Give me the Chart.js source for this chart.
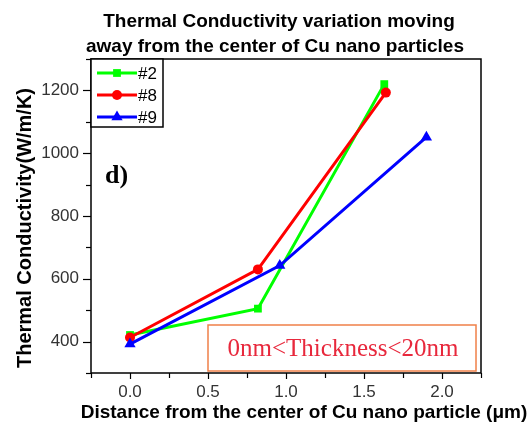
<!DOCTYPE html>
<html>
<head>
<meta charset="utf-8">
<title>Thermal Conductivity variation</title>
<script src="https://cdn.jsdelivr.net/npm/chart.js@4.4.1/dist/chart.umd.min.js"></script>
<style>
  html, body { margin: 0; padding: 0; background: #fff; }
  canvas { display: block; }
</style>
</head>
<body>
<canvas id="chart" width="532" height="430"></canvas>
<script>
// values
const seriesLabels = ["#2", "#8", "#9"];

const distance2 = [0, 0.82, 1.63];
const conductivity2 = [421, 505, 1220];

const distance8 = [0, 0.82, 1.64];
const conductivity8 = [413, 630, 1193];

const distance9 = [0, 0.96, 1.9];
const conductivity9 = [392, 642, 1051];

const titleLines = ["Thermal Conductivity variation moving", "away from the center of Cu nano particles"];
const xTitle = "Distance from the center of Cu nano particle (\u03bcm)";
const yTitle = "Thermal Conductivity(W/m/K)";
const panelLabel = "d)";
const noteText = "0nm<Thickness<20nm";

const SANS = '"Liberation Sans", Arial, sans-serif';
const SERIF = '"Liberation Serif", "Times New Roman", serif';

const toPoints = (xs, ys) => xs.map((x, i) => ({ x, y: ys[i] }));

function series(label, xs, ys, color, marker, radius, order) {
  return {
    label,
    data: toPoints(xs, ys),
    borderColor: color,
    backgroundColor: color,
    borderWidth: 3,
    pointStyle: marker,
    pointRadius: radius,
    pointBorderWidth: 0,
    pointBackgroundColor: color,
    tension: 0,
    order,
  };
}

const datasets = [
  series(seriesLabels[0], distance2, conductivity2, "#00ff00", "rect", 5.5, 3),
  series(seriesLabels[1], distance8, conductivity8, "#ff0000", "circle", 5, 2),
  series(seriesLabels[2], distance9, conductivity9, "#0000ff", "triangle", 6.5, 1),
];

const isMultiple = (v, step) => Math.abs(v / step - Math.round(v / step)) < 1e-6;

function line(ctx, x1, y1, x2, y2) {
  ctx.beginPath();
  ctx.moveTo(x1, y1);
  ctx.lineTo(x2, y2);
  ctx.stroke();
}

const decorations = {
  id: "decorations",
  afterDraw(chart) {
    const { ctx, chartArea: area, scales } = chart;
    const xs = scales.x;
    const ys = scales.y;
    ctx.save();

    // frame
    ctx.strokeStyle = "#000";
    ctx.lineWidth = 1.5;
    ctx.strokeRect(area.left, area.top, area.right - area.left, area.bottom - area.top);

    // tick marks (outward)
    ctx.lineWidth = 1.2;
    ys.ticks.forEach((t) => {
      const py = Math.round(ys.getPixelForValue(t.value)) + 0.5;
      const len = t.label ? 8 : 5;
      line(ctx, area.left - len, py, area.left, py);
    });
    xs.ticks.forEach((t) => {
      const px = Math.round(xs.getPixelForValue(t.value)) + 0.5;
      const len = t.label ? 6 : 5;
      line(ctx, px, area.bottom, px, area.bottom + len);
    });

    // title
    ctx.fillStyle = "#000";
    ctx.textAlign = "center";
    ctx.textBaseline = "alphabetic";
    ctx.font = "bold 19px " + SANS;
    ctx.fillText(titleLines[0], 279, 27);
    ctx.fillText(titleLines[1], 275, 52);

    // axis titles
    ctx.font = "bold 19px " + SANS;
    ctx.fillText(xTitle, 304, 418);
    ctx.save();
    ctx.translate(31, 228);
    ctx.rotate(-Math.PI / 2);
    ctx.font = "bold 20px " + SANS;
    ctx.fillText(yTitle, 0, 0);
    ctx.restore();

    // panel label
    ctx.textAlign = "left";
    ctx.font = "bold 26px " + SERIF;
    ctx.fillText(panelLabel, 105, 183);

    // note box
    ctx.strokeStyle = "#f08048";
    ctx.lineWidth = 1.5;
    ctx.fillStyle = "#fff";
    ctx.fillRect(208, 325, 268, 46);
    ctx.strokeRect(208, 325, 268, 46);
    ctx.fillStyle = "#e8283c";
    ctx.textAlign = "center";
    ctx.font = "25px " + SERIF;
    ctx.fillText(noteText, 343, 356);

    // legend
    const lx = area.left, ly = area.top;
    ctx.fillStyle = "#fff";
    ctx.fillRect(lx, ly, 72, 68);
    ctx.strokeStyle = "#000";
    ctx.lineWidth = 1.5;
    ctx.strokeRect(lx, ly, 72, 68);
    const rows = [14, 36, 58];
    chart.data.datasets.forEach((ds, i) => {
      const ry = ly + rows[i];
      ctx.strokeStyle = ds.borderColor;
      ctx.fillStyle = ds.borderColor;
      ctx.lineWidth = 3;
      line(ctx, lx + 6, ry, lx + 46, ry);
      Chart.helpers.drawPoint(ctx, { pointStyle: ds.pointStyle, radius: ds.pointRadius, borderWidth: 0, rotation: 0 }, lx + 26, ry);
      ctx.fillStyle = "#000";
      ctx.textAlign = "left";
      ctx.textBaseline = "middle";
      ctx.font = "17px " + SANS;
      ctx.fillText(ds.label, lx + 47, ry + 1);
    });

    ctx.restore();
  },
};

new Chart(document.getElementById("chart"), {
  type: "line",
  data: { datasets },
  options: {
    responsive: false,
    animation: false,
    devicePixelRatio: 1,
    layout: { padding: { top: 59, right: 51, left: 0, bottom: 0 } },
    plugins: {
      legend: { display: false },
      title: { display: false },
      tooltip: { enabled: false },
    },
    scales: {
      x: {
        type: "linear",
        min: -0.25,
        max: 2.25,
        grid: { display: false },
        border: { display: false },
        ticks: {
          stepSize: 0.25,
          padding: 1,
          color: "#333",
          font: { family: SANS, size: 17 },
          maxRotation: 0,
          autoSkip: false,
          callback: (v) => (isMultiple(v, 0.5) ? Number(v).toFixed(1) : ""),
        },
        afterFit: (s) => { s.height = 57; },
      },
      y: {
        type: "linear",
        min: 300,
        max: 1300,
        grid: { display: false },
        border: { display: false },
        ticks: {
          stepSize: 100,
          padding: 4,
          color: "#333",
          font: { family: SANS, size: 17 },
          autoSkip: false,
          callback: (v) => (isMultiple(v, 200) ? String(v) : ""),
        },
        afterFit: (s) => { s.width = 91; },
      },
    },
  },
  plugins: [decorations],
});
</script>
</body>
</html>
